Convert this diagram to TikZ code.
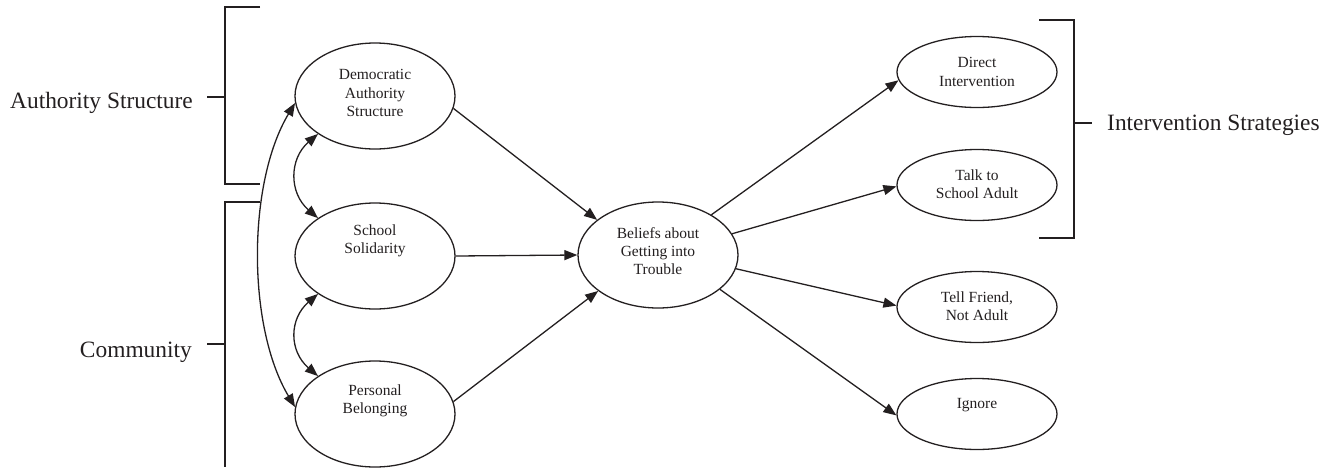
\documentclass[tikz,border=0pt]{standalone}
\usepackage{fontspec}
\setmainfont{Liberation Serif}
\usetikzlibrary{arrows.meta,shapes.geometric}
\definecolor{ink}{HTML}{231F20}
\begin{document}
\begin{tikzpicture}[x=1pt,y=-1pt,
  ell/.style={ellipse, draw=ink, line width=1.3pt, minimum width=160pt, minimum height=106pt, inner sep=0pt},
  sell/.style={ell, minimum height=71pt},
  ntext/.style={align=center, font=\fontsize{15.5}{18.3}\selectfont, text=ink, inner sep=0pt},
  grp/.style={font=\fontsize{23.4}{28}\selectfont, text=ink, inner sep=0pt},
  arr/.style={draw=ink, line width=1.3pt, -{Triangle[length=13pt,width=10pt]}},
  darr/.style={draw=ink, line width=1.3pt, {Triangle[length=13pt,width=10pt]}-{Triangle[length=13pt,width=10pt]}},
  brk/.style={draw=ink, line width=1.3pt}]
\useasboundingbox (0,0) rectangle (1334,467);

% ellipses
\node[ell] (dem) at (375,96) {};
\node[ell] (sch) at (375,256) {};
\node[ell] (per) at (375,414) {};
\node[ell] (bel) at (658,255) {};
\node[sell] (dir) at (977,72) {};
\node[sell] (talk) at (977,185) {};
\node[sell] (tell) at (977,307) {};
\node[sell] (ign) at (977,414) {};

% texts
\node[ntext] (demt) at (375,93) {Democratic\\Authority\\Structure};
\node[ntext] (scht) at (375,241) {School\\Solidarity};
\node[ntext] (pert) at (375,401) {Personal\\Belonging};
\node[ntext] (belt) at (658,251) {Beliefs about\\Getting into\\Trouble};
\node[ntext] (dirt) at (977,72) {Direct\\Intervention};
\node[ntext] (talkt) at (977,184) {Talk to\\School Adult};
\node[ntext] (tellt) at (977,306) {Tell Friend,\\Not Adult};
\node[ntext] (ignt) at (977,405) {Ignore};

% group labels
\node[grp, anchor=base east] (authl) at (193,108) {Authority Structure};
\node[grp, anchor=base east] (comml) at (192,357) {Community};
\node[grp, anchor=base west] (intl) at (1107,130) {Intervention Strategies};

% brackets
\draw[brk] (260,7) -- (225,7) -- (225,184) -- (260,184);
\draw[brk] (207,97) -- (225,97);
\draw[brk] (260,202) -- (225,202) -- (225,467);
\draw[brk] (207,344) -- (225,344);
\draw[brk] (1039,20) -- (1074,20) -- (1074,238) -- (1039,238);
\draw[brk] (1074,123) -- (1092,123);

% straight arrows
\draw[arr] (dem.-9) -- (bel.150);
\draw[arr] (sch.east) -- (bel.west);
\draw[arr] (per.9) -- (bel.211);
\draw[arr] (bel.37) -- (dir.186);
\draw[arr] (bel.16) -- (talk.181);
\draw[arr] (bel.-10) -- (tell.179);
\draw[arr] (bel.-29) -- (ign.181);

% correlations
\draw[darr] (dem.south west) .. controls +(-29,25) and +(-29,-25) .. (sch.north west);
\draw[darr] (sch.south west) .. controls +(-29,25) and +(-29,-25) .. (per.north west);
\draw[darr] (dem.185) .. controls +(-48,80) and +(-48,-80) .. (per.175);
\end{tikzpicture}
\end{document}
